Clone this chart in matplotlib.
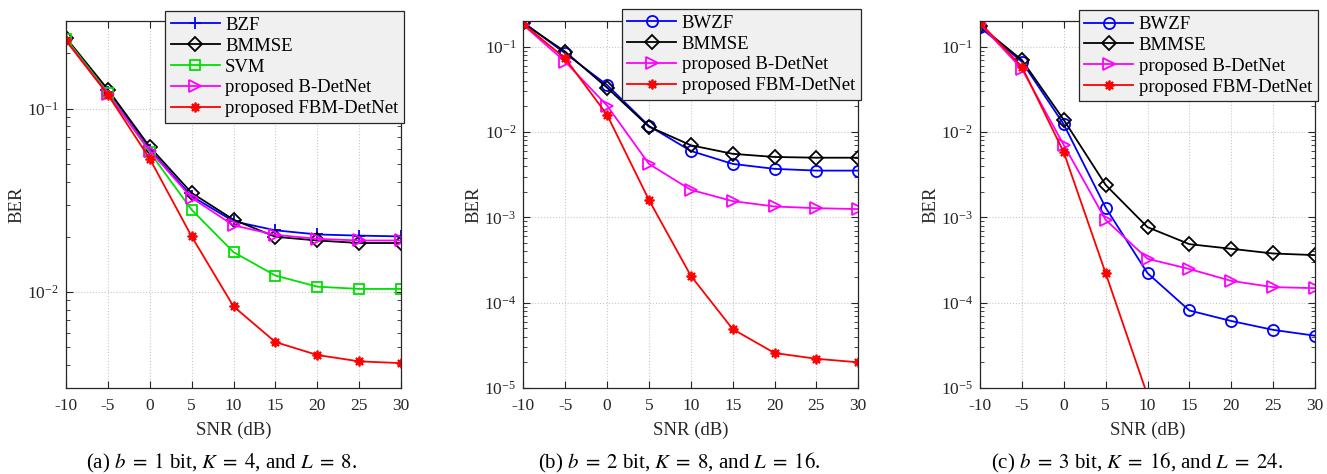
import numpy as np
import matplotlib
matplotlib.use("Agg")
import matplotlib.pyplot as plt
from matplotlib import ticker

plt.rcParams['font.family'] = ['Liberation Serif', 'DejaVu Serif']
plt.rcParams['mathtext.fontset'] = 'stix'

snr = [-10, -5, 0, 5, 10, 15, 20, 25, 30]

# (a) b = 1 bit, K = 4, L = 8
a_bzf = [0.238, 0.1228, 0.0597, 0.0333, 0.0243, 0.0217, 0.0206, 0.0203, 0.0201]
a_bmmse = [0.243, 0.127, 0.0618, 0.0347, 0.0248, 0.0200, 0.0191, 0.0185, 0.0185]
a_svm = [0.240, 0.122, 0.0578, 0.0281, 0.0165, 0.0123, 0.0107, 0.0104, 0.0104]
a_bdet = [0.235, 0.120, 0.0590, 0.0326, 0.0231, 0.0205, 0.0195, 0.0191, 0.0191]
a_fbm = [0.235, 0.119, 0.0533, 0.0201, 0.00835, 0.00534, 0.00454, 0.00419, 0.0041]

# (b) b = 2 bit, K = 8, L = 16
b_bwzf = [0.193, 0.0836, 0.0356, 0.0118, 0.0060, 0.00423, 0.0037, 0.00353, 0.00353]
b_bmmse = [0.188, 0.0874, 0.0331, 0.01156, 0.0070, 0.00555, 0.0051, 0.0050, 0.0050]
b_bdet = [0.180, 0.0667, 0.0204, 0.00423, 0.0021, 0.00155, 0.00134, 0.00128, 0.00125]
b_fbm = [0.184, 0.073, 0.0159, 0.0016, 0.000207, 4.9e-5, 2.57e-5, 2.2e-5, 2.0e-5]

# (c) b = 3 bit, K = 16, L = 24
c_bwzf = [0.169, 0.0667, 0.0123, 0.0013, 0.000222, 8.1e-5, 6.1e-5, 4.8e-5, 4.1e-5]
c_bmmse = [0.175, 0.0698, 0.0139, 0.0024, 0.000767, 0.000485, 0.000428, 0.000377, 0.000361]
c_bdet = [0.185, 0.0548, 0.00706, 0.000935, 0.000327, 0.000248, 0.00018, 0.000152, 0.000148]
c_fbm = [0.191, 0.0583, 0.0058, 0.000222, 8.2e-6, np.nan, np.nan, np.nan, np.nan]

captions = [r"(a) $b\;=\;1$ bit, $K\;=\;4$, and $L\;=\;8$.",
            r"(b) $b\;=\;2$ bit, $K\;=\;8$, and $L\;=\;16$.",
            r"(c) $b\;=\;3$ bit, $K\;=\;16$, and $L\;=\;24$."]

sty = {
    'BZF': dict(color='#0000ff', marker='+', ms=9),
    'BWZF': dict(color='#0000ff', marker='o', ms=8),
    'BMMSE': dict(color='#000000', marker='D', ms=7),
    'SVM': dict(color='#00e000', marker='s', ms=7),
    'proposed B-DetNet': dict(color='#ff00ff', marker='>', ms=8),
    'proposed FBM-DetNet': dict(color='#ff0000', marker=(8, 2, 0), ms=7),
}

panels = [
    ([('BZF', a_bzf), ('BMMSE', a_bmmse), ('SVM', a_svm),
      ('proposed B-DetNet', a_bdet), ('proposed FBM-DetNet', a_fbm)],
     (0.003, 0.3), (1.009, 1.027)),
    ([('BWZF', b_bwzf), ('BMMSE', b_bmmse),
      ('proposed B-DetNet', b_bdet), ('proposed FBM-DetNet', b_fbm)],
     (1e-5, 0.2), (1.007, 1.033)),
    ([('BWZF', c_bwzf), ('BMMSE', c_bmmse),
      ('proposed B-DetNet', c_bdet), ('proposed FBM-DetNet', c_fbm)],
     (1e-5, 0.2), (1.008, 1.029)),
]

lefts = [66, 523.3, 980]
cap_x = [222, 679, 1137]
W, H = 1327, 474

fig = plt.figure(figsize=(W / 100, H / 100), dpi=100)

for i, (series, ylim, anchor) in enumerate(panels):
    ax = fig.add_axes([lefts[i] / W, 1 - 388 / H, 335 / W, 367 / H])
    for name, vals in series:
        s = sty[name]
        ax.plot(snr, vals, color=s['color'], marker=s['marker'], ms=s['ms'],
                mfc='none', mew=1.3, lw=1.3, label=name)
    ax.set_yscale('log')
    ax.set_xlim(-10, 30)
    ax.set_ylim(*ylim)
    ax.set_xticks(snr)
    ax.set_xticklabels([str(v) for v in snr])
    ax.yaxis.set_minor_formatter(ticker.NullFormatter())
    ax.grid(True, which='major', linestyle=':', color='#c8c8c8', lw=0.8)
    ax.tick_params(which='both', direction='in', top=True, right=True,
                   colors='#262626', labelcolor='#262626', labelsize=12.5)
    ax.tick_params(which='major', length=5)
    ax.tick_params(which='minor', length=3)
    ax.tick_params(axis='y', pad=5)
    ax.tick_params(axis='x', pad=7)
    for sp in ax.spines.values():
        sp.set_color('#262626')
        sp.set_linewidth(0.9)
    ax.set_xlabel('SNR (dB)', fontsize=13.5, color='#262626', labelpad=6)
    ax.set_ylabel('BER', fontsize=13.5, color='#262626', labelpad=1)
    leg = ax.legend(loc='upper right', bbox_to_anchor=anchor, borderaxespad=0,
                    fontsize=13.5, fancybox=False, framealpha=1,
                    facecolor='#f0f0f0', edgecolor='#262626',
                    handlelength=2.6, handletextpad=0.3, labelspacing=0.2,
                    borderpad=0.3)
    leg.get_frame().set_linewidth(0.9)
    fig.text(cap_x[i] / W, 1 - 463 / H, captions[i], ha='center', va='center',
             fontsize=15)

fig.savefig('out.png', dpi=100)
